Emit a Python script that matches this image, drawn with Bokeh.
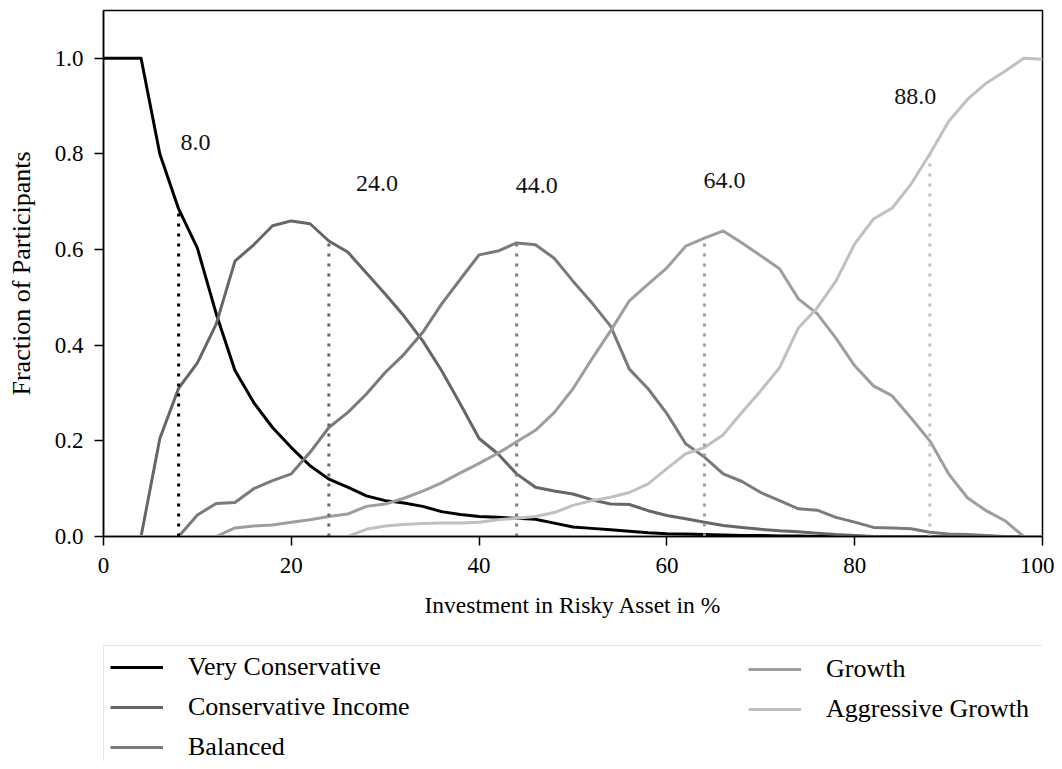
from bokeh.plotting import figure
from bokeh.layouts import column
from bokeh.models import Range1d, Legend, LegendItem, FixedTicker, ColumnDataSource
from bokeh.core.properties import value
from bokeh.embed import file_html
from bokeh.resources import INLINE

# ---------------- data ----------------
invest = list(range(0, 101, 2))

very_conservative = [1.0, 1.0, 1.0, 0.80, 0.685, 0.603, 0.466, 0.347, 0.28, 0.228,
                     0.186, 0.148, 0.12, 0.103, 0.085, 0.075, 0.07, 0.063, 0.052, 0.046,
                     0.042, 0.04, 0.038, 0.036, 0.028, 0.02, 0.017, 0.014, 0.011, 0.008,
                     0.006, 0.005, 0.004, 0.003, 0.002, 0.002, 0.001, 0.001,
                     0, 0, 0, 0, 0, 0, 0, 0, 0, 0, 0, 0, 0]
conservative_income = [0, 0, 0, 0.205, 0.31, 0.363, 0.444, 0.576, 0.61, 0.65,
                       0.66, 0.654, 0.618, 0.595, 0.551, 0.507, 0.461, 0.409, 0.347, 0.277,
                       0.205, 0.173, 0.131, 0.103, 0.095, 0.089, 0.077, 0.068, 0.067, 0.054,
                       0.044, 0.037, 0.03, 0.023, 0.019, 0.015, 0.012, 0.01, 0.007, 0.004,
                       0.002, 0, 0, 0, 0, 0, 0, 0, 0, 0, 0]
balanced = [0, 0, 0, 0, 0, 0.045, 0.069, 0.071, 0.10, 0.117,
            0.131, 0.176, 0.228, 0.259, 0.298, 0.343, 0.381, 0.427, 0.486, 0.538,
            0.589, 0.597, 0.614, 0.61, 0.582, 0.534, 0.489, 0.44, 0.35, 0.309,
            0.257, 0.194, 0.166, 0.131, 0.115, 0.092, 0.075, 0.058, 0.055, 0.04,
            0.03, 0.019, 0.018, 0.016, 0.009, 0.005, 0.004, 0.002, 0, 0, 0]
growth = [0, 0, 0, 0, 0, 0, 0, 0.018, 0.022, 0.024,
          0.03, 0.035, 0.042, 0.047, 0.063, 0.068, 0.08, 0.095, 0.112, 0.133,
          0.153, 0.174, 0.198, 0.222, 0.259, 0.309, 0.371, 0.43, 0.493, 0.528,
          0.562, 0.607, 0.624, 0.639, 0.614, 0.587, 0.56, 0.497, 0.466, 0.415,
          0.357, 0.315, 0.294, 0.248, 0.2, 0.131, 0.081, 0.054, 0.033, 0.0, 0.0]
aggressive_growth = [0, 0, 0, 0, 0, 0, 0, 0, 0, 0,
                     0, 0, 0, 0, 0.015, 0.022, 0.025, 0.027, 0.028, 0.028,
                     0.03, 0.035, 0.038, 0.042, 0.05, 0.065, 0.075, 0.082, 0.092, 0.11,
                     0.142, 0.173, 0.186, 0.213, 0.26, 0.305, 0.353, 0.436, 0.478, 0.534,
                     0.612, 0.664, 0.687, 0.737, 0.80, 0.868, 0.914, 0.948, 0.973, 1.0, 0.998]

series_names = ["Very Conservative", "Conservative Income", "Balanced",
                "Growth", "Aggressive Growth"]
series_values = [very_conservative, conservative_income, balanced, growth, aggressive_growth]
marker_x = [8, 24, 44, 64, 88]

x_ticks = [0, 20, 40, 60, 80, 100]
y_ticks = [0.0, 0.2, 0.4, 0.6, 0.8, 1.0]

# ---------------- styles ----------------
colors = ["#000000", "#666666", "#7a7a7a", "#9e9e9e", "#c0c0c0"]
label_dx = [0.2, 2.9, -0.1, -0.1, -3.8]
label_dy = [0.14, 0.12, 0.12, 0.12, 0.12]
FONT = "Liberation Serif, Times New Roman, serif"
TOTAL_W = 1054
FRAME_L, FRAME_W = 103, 939

# ---------------- main plot ----------------
p = figure(width=TOTAL_W, height=645, output_backend="svg", toolbar_location=None,
           x_range=Range1d(0, 100), y_range=Range1d(0, 1.1),
           min_border_left=FRAME_L, min_border_right=TOTAL_W - FRAME_L - FRAME_W,
           min_border_top=10, min_border_bottom=109)
p.grid.visible = False
p.outline_line_color = "black"
p.outline_line_width = 1.5
p.background_fill_color = "white"
p.border_fill_color = "white"

for name, vals, c in zip(series_names, series_values, colors):
    p.line(invest, vals, line_color=c, line_width=3, line_join="round")

# vertical dotted markers
tops = [vals[invest.index(m)] for vals, m in zip(series_values, marker_x)]
p.segment(x0=marker_x, y0=[0] * len(marker_x), x1=marker_x, y1=tops,
          line_color=colors, line_width=3, line_dash="3 7")

lab_src = ColumnDataSource(dict(
    x=[m + d for m, d in zip(marker_x, label_dx)],
    y=[t + d for t, d in zip(tops, label_dy)],
    t=[f"{float(m):.1f}" for m in marker_x]))
p.text(x="x", y="y", text="t", source=lab_src, text_font=value(FONT),
       text_font_size=value("24px"), text_baseline="middle", text_align="left",
       text_color="#111111")

# axes
for ax in (p.xaxis[0], p.yaxis[0]):
    ax.major_label_text_font = FONT
    ax.major_label_text_font_size = "23px"
    ax.major_label_text_color = "black"
    ax.axis_label_text_font = FONT
    ax.axis_label_text_font_style = "normal"
    ax.axis_label_text_color = "black"
    ax.axis_line_color = "black"
    ax.axis_line_width = 1.5
    ax.major_tick_line_color = "black"
    ax.major_tick_line_width = 1.5
    ax.major_tick_in = 0
    ax.major_tick_out = 9
    ax.minor_tick_line_color = None

p.xaxis.axis_label = "Investment in Risky Asset in %"
p.yaxis.axis_label = "Fraction of Participants"
p.xaxis.axis_label_text_font_size = "23.5px"
p.yaxis.axis_label_text_font_size = "26px"
p.xaxis.ticker = FixedTicker(ticks=x_ticks)
p.yaxis.ticker = FixedTicker(ticks=y_ticks)
p.xaxis.major_label_overrides = {t: str(t) for t in x_ticks}
p.yaxis.major_label_overrides = {t: f"{t:.1f}" for t in y_ticks}
p.xaxis.major_label_standoff = 12
p.yaxis.major_label_standoff = 11
p.xaxis.axis_label_standoff = 16
p.yaxis.axis_label_standoff = 16

# ---------------- legend panel (frame is aligned with the main plot) ----------------
ROW_H = 30
SP = 10
PAD = 6
GLYPH_W = 53
STANDOFF = 25
P2_H = 116
BOX_TOP = 2

p2 = figure(width=TOTAL_W, height=P2_H, output_backend="svg", toolbar_location=None,
            x_range=Range1d(0, 100), y_range=Range1d(5, 6),
            x_axis_location=None, y_axis_location=None,
            min_border_left=FRAME_L, min_border_right=TOTAL_W - FRAME_L - FRAME_W,
            min_border_top=0, min_border_bottom=0)
p2.grid.visible = False
p2.outline_line_color = None
p2.background_fill_color = "white"
p2.border_fill_color = "white"

# legend renderers: same series, drawn outside this panel's visible y range
leg_r = [p2.line(invest, vals, line_color=c, line_width=3)
         for vals, c in zip(series_values, colors)]

items1 = [LegendItem(label=series_names[i], renderers=[leg_r[i]]) for i in range(3)]
items2 = [LegendItem(label=series_names[i], renderers=[leg_r[i]]) for i in range(3, 5)]
h1 = 2 * PAD + 3 * ROW_H + 2 * SP
h2 = 2 * PAD + 2 * ROW_H + 1 * SP


def style(lg):
    lg.label_text_font = FONT
    lg.label_text_font_size = "26px"
    lg.label_text_color = "black"
    lg.glyph_width = GLYPH_W
    lg.glyph_height = ROW_H
    lg.label_height = ROW_H
    lg.label_standoff = STANDOFF
    lg.spacing = SP
    lg.padding = PAD
    lg.margin = 0


leg1 = Legend(items=items1, location=(0, P2_H - BOX_TOP - h1))
style(leg1)
leg1.label_width = FRAME_W - 2 * PAD - GLYPH_W - STANDOFF
leg1.border_line_color = "#cccccc"
leg1.border_line_width = 1
leg1.background_fill_alpha = 1.0

leg2 = Legend(items=items2, location=(749 - FRAME_L - PAD + 5, P2_H - BOX_TOP - h2 + 5))
style(leg2)
leg2.border_line_color = None
leg2.background_fill_alpha = 0.0

p2.add_layout(leg1)
p2.add_layout(leg2)

layout = column(p, p2, spacing=0)
open("out.html", "w").write(file_html(layout, INLINE))
